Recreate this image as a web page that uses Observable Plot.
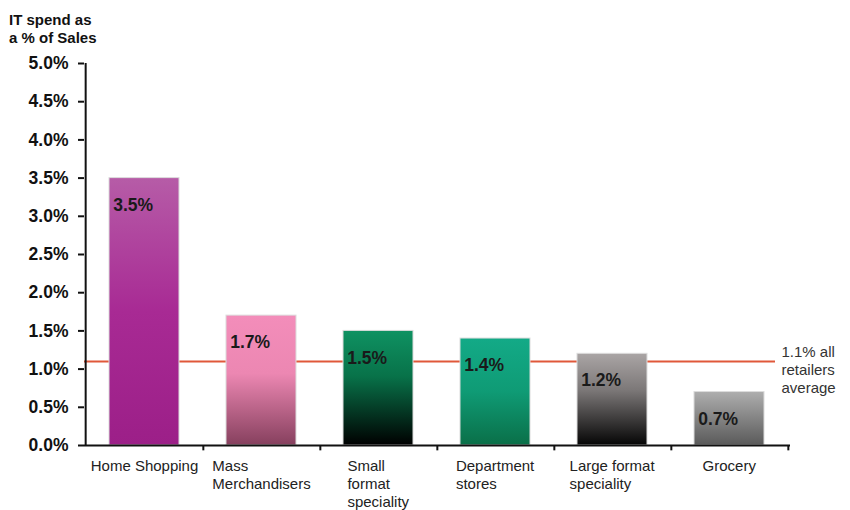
<!DOCTYPE html>
<html>
<head>
<meta charset="utf-8">
<script src="https://cdn.jsdelivr.net/npm/d3@7"></script>
<script src="https://cdn.jsdelivr.net/npm/@observablehq/plot@0.6"></script>
<style>
  body { margin: 0; background: #fff; font-family: "Liberation Sans", Arial, sans-serif; }
  #wrap { position: relative; width: 850px; height: 510px; }
  #title { position: absolute; left: 9px; top: 11px; font-size: 15px; font-weight: bold; line-height: 18px; color: #111; z-index: 2; }
</style>
</head>
<body>
<div id="wrap">
  <div id="title">IT spend as<br>a % of Sales</div>
</div>
<script>
const categories = ["Home Shopping", "Mass\nMerchandisers", "Small\nformat\nspeciality", "Department\nstores", "Large format\nspeciality", "Grocery"];
const values = [3.5, 1.7, 1.5, 1.4, 1.2, 0.7];
const valueLabels = ["3.5%", "1.7%", "1.5%", "1.4%", "1.2%", "0.7%"];
const yTicks = [0, 0.5, 1, 1.5, 2, 2.5, 3, 3.5, 4, 4.5, 5];
const avgValue = 1.1;
const avgLabel = "1.1% all\nretailers\naverage";
// gradient stops per bar (top -> bottom)
const gradients = [
  [["0", "#b65ca7"], ["0.5", "#a82a94"], ["1", "#9c1f88"]],
  [["0", "#f38dba"], ["0.45", "#ec87b2"], ["1", "#86405e"]],
  [["0", "#0f9262"], ["0.4", "#087249"], ["1", "#000000"]],
  [["0", "#13aa87"], ["0.5", "#0f9b75"], ["1", "#0a6f48"]],
  [["0", "#aaa5a5"], ["0.4", "#7c7878"], ["1", "#050505"]],
  [["0", "#aeaeae"], ["1", "#5a5a5a"]]
];

const data = categories.map((c, i) => ({cat: c, value: values[i], label: valueLabels[i], fill: `url(#grad${i})`}));

const W = 850, H = 510, mL = 84, mR = 60, mT = 63, mB = 65;
const step = (W - mL - mR) / categories.length;
const font = '"Liberation Sans", Arial, sans-serif';

const chart = Plot.plot({
  width: W, height: H,
  marginLeft: mL, marginRight: mR, marginTop: mT, marginBottom: mB,
  style: {fontFamily: font, background: "#fff", color: "#111"},
  x: {domain: categories, paddingInner: 0.4, paddingOuter: 0.2, label: null, axis: null},
  y: {domain: [0, 5], label: null, axis: null},
  color: {type: "identity"},
  marks: [
    Plot.ruleY([avgValue], {stroke: "#e0583a", strokeWidth: 2, insetRight: 15}),
    Plot.barY(data, {x: "cat", y: "value", fill: "fill", stroke: "#dcdcdc", strokeWidth: 1}),
    Plot.text(data, {x: "cat", y: "value", text: "label", textAnchor: "start", dx: -step * 0.3 + 4, dy: 27, fontSize: 17.5, fontWeight: "bold", fill: "#1a1a1a"}),
    Plot.text([avgValue], {y: d => d, text: () => avgLabel, frameAnchor: "right", textAnchor: "start", dx: -9, dy: 8, fontSize: 15, fill: "#333", lineHeight: 1.18}),
    Plot.axisY({ticks: yTicks, tickFormat: d => d.toFixed(1) + "%", tickSize: 6, tickPadding: 10, strokeWidth: 2, fontSize: 17.5, fontWeight: "bold", fill: "#111", label: null}),
    Plot.axisX({tickSize: 0, tickPadding: 13, textAnchor: "start", lineAnchor: "top", fontSize: 15, fill: "#222", lineHeight: 1.2, label: null}),
    Plot.ruleX([categories[0]], {dx: -step / 2, stroke: "#111", strokeWidth: 2}),
    Plot.ruleY([0], {stroke: "#111", strokeWidth: 2}),
    Plot.ruleX(categories, {x: d => d, y1: 0, y2: -0.07, dx: step / 2, stroke: "#111", strokeWidth: 2})
  ]
});

// gradient definitions
const ns = "http://www.w3.org/2000/svg";
const defs = document.createElementNS(ns, "defs");
gradients.forEach((stops, i) => {
  const g = document.createElementNS(ns, "linearGradient");
  g.setAttribute("id", "grad" + i);
  g.setAttribute("x1", "0"); g.setAttribute("y1", "0");
  g.setAttribute("x2", "0"); g.setAttribute("y2", "1");
  stops.forEach(([o, c]) => {
    const s = document.createElementNS(ns, "stop");
    s.setAttribute("offset", o);
    s.setAttribute("stop-color", c);
    g.appendChild(s);
  });
  defs.appendChild(g);
});
chart.insertBefore(defs, chart.firstChild);
document.getElementById("wrap").appendChild(chart);

// center each left-aligned x label block on its band
chart.querySelectorAll('g[aria-label="x-axis tick label"] text').forEach(t => {
  const w = t.getBBox().width;
  const tr = t.getAttribute("transform") || "";
  t.setAttribute("transform", tr + ` translate(${-w / 2},0)`);
});
</script>
</body>
</html>
